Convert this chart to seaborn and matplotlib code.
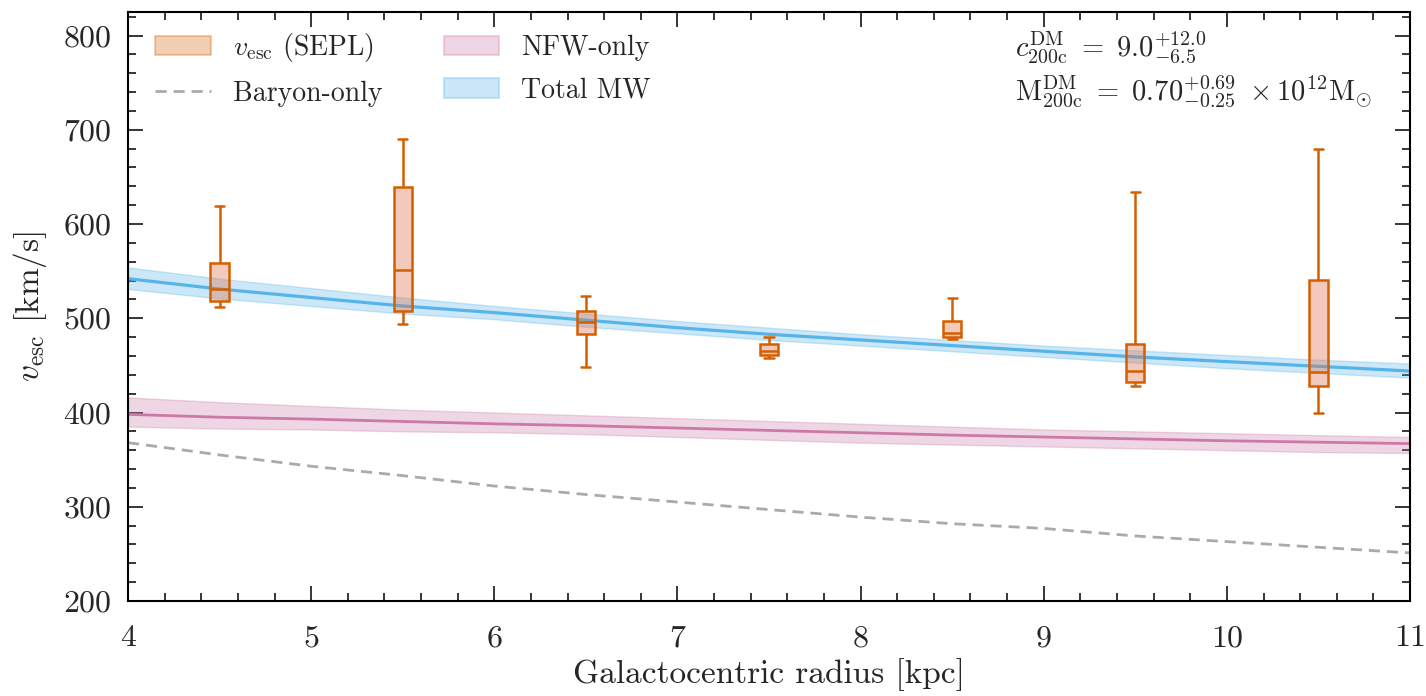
import numpy as np
import pandas as pd
import matplotlib
matplotlib.use("Agg")
import matplotlib.pyplot as plt
import seaborn as sns
from matplotlib.patches import Patch
from matplotlib.lines import Line2D
from matplotlib.ticker import MultipleLocator

# ---------------- data ----------------
radius = [4.0, 4.5, 5.0, 5.5, 6.0, 6.5, 7.0, 7.5, 8.0, 8.5, 9.0, 9.5, 10.0, 10.5, 11.0]

total_mw = [542, 531, 522, 513, 506, 498, 490, 483, 477, 471, 465, 459, 454, 449, 444]
total_mw_lo = [531, 521, 513, 505, 499, 491, 484, 477, 471, 465, 459, 453, 447, 442, 437]
total_mw_hi = [554, 542, 532, 522, 513, 505, 497, 490, 483, 477, 471, 466, 461, 456, 452]

nfw_only = [398, 395, 393, 390.5, 388, 386, 383.5, 381, 378.5, 376, 374, 372, 370, 368.5, 367]
nfw_lo = [385, 383, 382, 380, 379, 377, 374, 371, 368, 366, 364, 362, 360, 358, 357]
nfw_hi = [416, 411, 407, 403, 400, 397, 394, 391, 388, 385, 382, 380, 378, 376, 374]

baryon_only = [368, 355, 343, 333, 322, 313, 305, 297, 289, 282, 277, 269, 263, 257, 251]

box_pos = [4.5, 5.5, 6.5, 7.5, 8.5, 9.5, 10.5]
box_whislo = [512, 494, 448, 458, 478, 428, 399]
box_q1 = [518, 508, 483, 461, 480, 432, 428]
box_med = [531, 551, 496, 465, 484.5, 444, 443]
box_q3 = [559, 639, 508, 473, 497, 473, 541]
box_whishi = [619, 690, 524, 480, 521, 634, 680]

c_text = r"$c_{\rm 200c}^{\rm DM}\ =\ 9.0^{+12.0}_{-6.5}$"
m_text = r"$\mathrm{M}_{\rm 200c}^{\rm DM}\ =\ 0.70^{+0.69}_{-0.25}\ \times 10^{12}\mathrm{M}_{\odot}$"

# ---------------- style ----------------
sns.set_theme(style="ticks")
plt.rcParams.update({
    "font.family": ["cmr10", "DejaVu Serif"],
    "mathtext.fontset": "cm",
    "axes.formatter.use_mathtext": True,
    "axes.unicode_minus": False,
    "font.size": 23,
    "axes.linewidth": 1.5,
})

ORANGE = "#D55E00"
BLUE = "#56B4E9"
PINK = "#CC79A7"
GREY = "#aaaaaa"

fig = plt.figure(figsize=(14.26, 6.96), dpi=100)
ax = fig.add_axes([0.0898, 0.1365, 0.899, 0.8463])

curves = pd.DataFrame({"r": radius, "mw": total_mw, "nfw": nfw_only, "bar": baryon_only})

ax.fill_between(radius, nfw_lo, nfw_hi, color=PINK, alpha=0.3, lw=1, zorder=1)
sns.lineplot(data=curves, x="r", y="nfw", color=PINK, lw=2, ax=ax, zorder=2)
ax.fill_between(radius, total_mw_lo, total_mw_hi, color=BLUE, alpha=0.3, lw=1, zorder=1)
sns.lineplot(data=curves, x="r", y="mw", color=BLUE, lw=2.3, ax=ax, zorder=2)
sns.lineplot(data=curves, x="r", y="bar", color=GREY, lw=2, ax=ax, zorder=2)
ax.lines[-1].set_linestyle((0, (4, 2.5)))

# boxes: five-number summaries rendered through seaborn's boxplot with whiskers at min/max
rows = []
for p, a, b, c, d, e in zip(box_pos, box_whislo, box_q1, box_med, box_q3, box_whishi):
    for v in (a, b, c, d, e):
        rows.append({"r": p, "v": v})
boxdf = pd.DataFrame(rows)
n_before = len(ax.patches)
sns.boxplot(data=boxdf, x="r", y="v", native_scale=True, whis=(0, 100), width=0.1,
            color=ORANGE, linecolor=ORANGE, linewidth=1.8, fliersize=0, ax=ax,
            zorder=3)
for patch in ax.patches[n_before:]:
    patch.set_facecolor((0.87, 0.45, 0.30, 0.38))
    patch.set_edgecolor(ORANGE)

ax.set_xlim(4, 11)
ax.set_ylim(200, 825)
ax.set_xticks([4, 5, 6, 7, 8, 9, 10, 11])
ax.set_xticklabels(["4", "5", "6", "7", "8", "9", "10", "11"])
ax.set_yticks([200, 300, 400, 500, 600, 700, 800])
ax.set_yticklabels(["200", "300", "400", "500", "600", "700", "800"])
ax.xaxis.set_minor_locator(MultipleLocator(0.2))
ax.yaxis.set_minor_locator(MultipleLocator(20))
ax.tick_params(which="both", direction="in", top=True, right=True, labelsize=23, width=1.3)
ax.tick_params(which="major", length=11)
ax.tick_params(which="minor", length=5.5)
ax.tick_params(axis="x", which="major", pad=17)
ax.tick_params(axis="y", which="major", pad=12)
for s in ax.spines.values():
    s.set_visible(True)
    s.set_linewidth(1.5)
    s.set_color("black")

ax.set_xlabel("Galactocentric radius [kpc]", fontsize=24, labelpad=4)
ax.set_ylabel(r"$v_{\rm esc}$ [km/s]", fontsize=24, labelpad=10)

handles = [
    Patch(facecolor=ORANGE, edgecolor=ORANGE, alpha=0.3, lw=1.5),
    Line2D([0], [0], color=GREY, lw=2, ls=(0, (4, 2.5))),
    Patch(facecolor=PINK, edgecolor=PINK, alpha=0.3, lw=1.5),
    Patch(facecolor=BLUE, edgecolor=BLUE, alpha=0.3, lw=1.5),
]
labels = [r"$v_{\rm esc}$ (SEPL)", "Baryon-only", "NFW-only", "Total MW"]
ax.legend(handles, labels, loc="upper left", ncol=2, frameon=False, fontsize=20,
          handlelength=2.0, columnspacing=2.2, labelspacing=0.58,
          bbox_to_anchor=(0.006, 1.0), borderaxespad=0.3)

ax.text(0.692, 0.97, c_text, transform=ax.transAxes, fontsize=20.5, va="top", ha="left")
ax.text(0.692, 0.895, m_text, transform=ax.transAxes, fontsize=20.5, va="top", ha="left")

fig.savefig("out.png", dpi=100)
